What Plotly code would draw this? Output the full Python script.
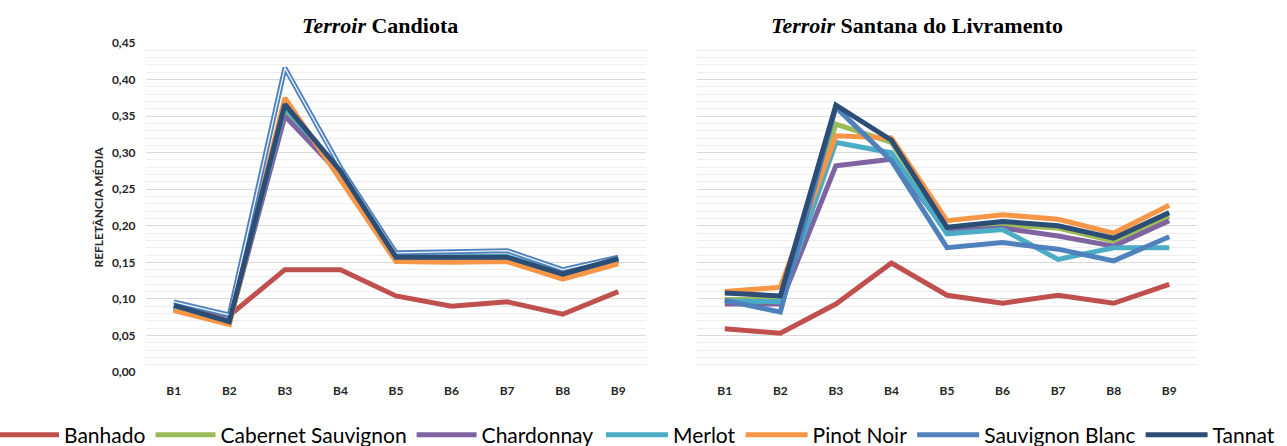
import plotly.graph_objects as go

W, H = 1287, 446

bands = ["B1", "B2", "B3", "B4", "B5", "B6", "B7", "B8", "B9"]
series_names = ["Banhado", "Cabernet Sauvignon", "Chardonnay", "Merlot",
                "Pinot Noir", "Sauvignon Blanc", "Tannat"]
colors = ["#C0504D", "#9BBB59", "#8064A2", "#4BACC6", "#F79646", "#4F81BD", "#2C4D75"]

# Terroir Candiota
candiota_banhado = [0.088, 0.077, 0.140, 0.140, 0.104, 0.090, 0.096, 0.079, 0.110]
candiota_cabernet = [0.087, 0.068, 0.357, 0.272, 0.155, 0.154, 0.155, 0.132, 0.153]
candiota_chardonnay = [0.086, 0.068, 0.350, 0.270, 0.153, 0.153, 0.153, 0.131, 0.152]
candiota_merlot = [0.088, 0.070, 0.362, 0.275, 0.157, 0.157, 0.158, 0.136, 0.155]
candiota_pinot = [0.084, 0.065, 0.375, 0.262, 0.151, 0.150, 0.151, 0.127, 0.148]
candiota_sauvignon = [0.096, 0.078, 0.416, 0.280, 0.163, 0.164, 0.166, 0.140, 0.157]
candiota_tannat = [0.091, 0.069, 0.366, 0.275, 0.157, 0.157, 0.157, 0.134, 0.155]

# Terroir Santana do Livramento
santana_banhado = [0.059, 0.053, 0.093, 0.149, 0.105, 0.094, 0.105, 0.094, 0.120]
santana_cabernet = [0.099, 0.099, 0.339, 0.314, 0.195, 0.201, 0.197, 0.179, 0.213]
santana_chardonnay = [0.093, 0.093, 0.282, 0.291, 0.193, 0.197, 0.186, 0.172, 0.207]
santana_merlot = [0.097, 0.096, 0.314, 0.300, 0.189, 0.195, 0.154, 0.170, 0.170]
santana_pinot = [0.110, 0.116, 0.323, 0.320, 0.207, 0.215, 0.209, 0.190, 0.228]
santana_sauvignon = [0.098, 0.082, 0.362, 0.289, 0.170, 0.177, 0.168, 0.152, 0.185]
santana_tannat = [0.108, 0.104, 0.365, 0.317, 0.198, 0.206, 0.200, 0.183, 0.218]

candiota = [candiota_banhado, candiota_cabernet, candiota_chardonnay, candiota_merlot,
            candiota_pinot, candiota_sauvignon, candiota_tannat]
santana = [santana_banhado, santana_cabernet, santana_chardonnay, santana_merlot,
           santana_pinot, santana_sauvignon, santana_tannat]

y_ticks = [0.00, 0.05, 0.10, 0.15, 0.20, 0.25, 0.30, 0.35, 0.40, 0.45]

# legend split in two groups so the entries spread across the full width
legend_of = ["legend", "legend", "legend", "legend2", "legend2", "legend2", "legend2"]

LW = 5
fig = go.Figure()
for i, name in enumerate(series_names):
    fig.add_trace(go.Scatter(x=bands, y=candiota[i], mode="lines", name=name,
                             line=dict(color=colors[i], width=LW), legendgroup=name,
                             legend=legend_of[i], xaxis="x", yaxis="y"))
    if name == "Sauvignon Blanc":
        fig.add_trace(go.Scatter(x=bands, y=candiota[i], mode="lines", showlegend=False,
                                 line=dict(color="rgba(255,255,255,0.9)", width=1.3),
                                 hoverinfo="skip", xaxis="x", yaxis="y"))
for i, name in enumerate(series_names):
    fig.add_trace(go.Scatter(x=bands, y=santana[i], mode="lines", name=name,
                             line=dict(color=colors[i], width=LW), legendgroup=name,
                             legend=legend_of[i], showlegend=False, xaxis="x2", yaxis="y2"))

top, bottom = 43, 372
plot_h = bottom - top

def px(x):
    return x / W

grid_major = "#d9d9d9"
grid_minor = "#eeeeee"
tickfont = dict(family="Lato", size=12, color="#262626", weight="bold")

yaxis_common = dict(range=[0, 0.45], tickvals=y_ticks, tickformat=".2f",
                    showgrid=True, gridcolor=grid_major, gridwidth=1.3,
                    minor=dict(dtick=0.01, showgrid=True, gridcolor=grid_minor, gridwidth=1),
                    zeroline=False, showline=False, tickfont=tickfont,
                    ticks="outside", ticklen=7, tickcolor="rgba(0,0,0,0)")
xaxis_common = dict(type="category", showgrid=False, zeroline=False, showline=False,
                    tickfont=tickfont, ticks="outside", ticklen=8,
                    tickcolor="rgba(0,0,0,0)", range=[-0.5, 8.5])

legend_y = -(435 - bottom) / plot_h
legend_font = dict(family="Lato", size=21, color="#000000")

fig.update_layout(
    width=W, height=H,
    margin=dict(l=0, r=0, t=top, b=H - bottom, autoexpand=False),
    paper_bgcolor="white", plot_bgcolor="white",
    separators=",.",
    xaxis=dict(domain=[px(146), px(646)], anchor="y", **xaxis_common),
    xaxis2=dict(domain=[px(697), px(1197)], anchor="y2", **xaxis_common),
    yaxis=dict(anchor="x", showticklabels=True,
               title=dict(text="REFLETÂNCIA MÉDIA", standoff=5,
                          font=dict(family="Lato", size=12, color="#262626", weight="bold")),
               **yaxis_common),
    yaxis2=dict(anchor="x2", showticklabels=False, **yaxis_common),
    showlegend=True,
    legend=dict(orientation="h", x=px(-6), xanchor="left", y=legend_y, yanchor="middle",
                font=legend_font, itemwidth=60, tracegroupgap=0, bgcolor="rgba(0,0,0,0)"),
    legend2=dict(orientation="h", x=px(601), xanchor="left", y=legend_y, yanchor="middle",
                 font=legend_font, itemwidth=62, tracegroupgap=0, bgcolor="rgba(0,0,0,0)"),
    annotations=[
        dict(text="<b><i>Terroir</i> Candiota</b>", x=px(380), y=1 + (top - 25) / plot_h,
             xref="paper", yref="paper", showarrow=False, xanchor="center", yanchor="middle",
             font=dict(family="Liberation Serif", size=22, color="#000000")),
        dict(text="<b><i>Terroir</i> Santana do Livramento</b>", x=px(917),
             y=1 + (top - 25) / plot_h, xref="paper", yref="paper", showarrow=False,
             xanchor="center", yanchor="middle",
             font=dict(family="Liberation Serif", size=22, color="#000000")),
    ],
)

fig.write_html("out.html", config={"displayModeBar": False},
               post_script="document.body.style.margin='0';")
